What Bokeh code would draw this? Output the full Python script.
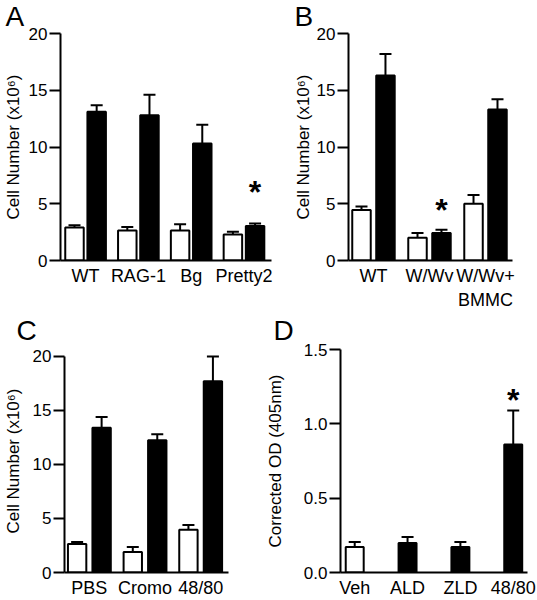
from bokeh.plotting import figure
from bokeh.layouts import row, column
from bokeh.models import Range1d, FixedTicker, PrintfTickFormatter
from bokeh.core.properties import value
from bokeh.embed import file_html
from bokeh.resources import INLINE

FONT = "Liberation Sans"

# ---------------- data ----------------
# Panel A
a_groups = ["WT", "RAG-1", "Bg", "Pretty2"]
a_white = [2.9, 2.65, 2.65, 2.3]
a_white_err = [0.2, 0.3, 0.55, 0.23]
a_black = [13.1, 12.8, 10.3, 3.05]
a_black_err = [0.57, 1.8, 1.65, 0.21]
a_star_group = [3]
a_star_y = [6.4]

# Panel B
b_groups = ["WT", "W/Wv", "W/Wv+\nBMMC"]
b_white = [4.45, 2.0, 5.0]
b_white_err = [0.3, 0.43, 0.78]
b_black = [16.3, 2.43, 13.3]
b_black_err = [1.9, 0.29, 0.9]
b_star_group = [1]
b_star_y = [4.8]

# Panel C
c_groups = ["PBS", "Cromo", "48/80"]
c_white = [2.64, 1.9, 3.95]
c_white_err = [0.19, 0.47, 0.45]
c_black = [13.4, 12.25, 17.7]
c_black_err = [1.0, 0.55, 2.3]

# Panel D
d_groups = ["Veh", "ALD", "ZLD", "48/80"]
d_values = [0.171, 0.198, 0.171, 0.861]
d_err = [0.034, 0.04, 0.034, 0.228]
d_fill = ["white", "black", "black", "black"]
d_star_group = [3]
d_star_y = [1.19]

cell_ticks = [0, 5, 10, 15, 20]
od_ticks = [0.0, 0.5, 1.0, 1.5]
cell_title = "Cell Number (x10\u2076)"
od_title = "Corrected OD (405nm)"


def make_fig(width, height, bl, br, bt, bb, xr, yr, yticks, ytitle, groups,
             letter, letter_dx, letter_standoff, title_standoff):
    p = figure(width=width, height=height, x_range=Range1d(*xr), y_range=Range1d(*yr),
               output_backend="svg", toolbar_location=None,
               min_border_left=bl, min_border_right=br, min_border_top=bt, min_border_bottom=bb)
    p.outline_line_color = None
    p.background_fill_color = "white"
    p.border_fill_color = "white"
    p.xgrid.visible = False
    p.ygrid.visible = False
    # panel letter
    p.title.text = letter
    p.title.text_font = FONT
    p.title.text_font_size = "28px"
    p.title.text_font_style = "normal"
    p.title.text_color = "black"
    p.title.align = "left"
    p.title.vertical_align = "top"
    p.title.offset = letter_dx
    p.title.standoff = letter_standoff
    for ax in (p.xaxis[0], p.yaxis[0]):
        ax.axis_line_width = 2
        ax.axis_line_color = "black"
        ax.major_tick_line_width = 2
        ax.major_tick_line_color = "black"
        ax.minor_tick_line_color = None
        ax.major_label_text_font = FONT
        ax.major_label_text_color = "black"
    xa = p.xaxis[0]
    xa.ticker = FixedTicker(ticks=list(range(len(groups))))
    xa.major_label_overrides = {i: g for i, g in enumerate(groups)}
    xa.major_tick_out = 0
    xa.major_tick_in = 0
    xa.major_label_text_font_size = "18px"
    xa.major_label_standoff = 5
    ya = p.yaxis[0]
    ya.ticker = FixedTicker(ticks=yticks)
    ya.bounds = (yticks[0], yticks[-1])
    ya.major_tick_out = 11
    ya.major_tick_in = 0
    ya.major_label_standoff = 2
    ya.major_label_text_font_size = "17px"
    ya.axis_label = ytitle
    ya.axis_label_text_font = FONT
    ya.axis_label_text_font_size = "17px"
    ya.axis_label_text_font_style = "normal"
    ya.axis_label_text_color = "black"
    ya.axis_label_standoff = title_standoff
    return p


def bars(p, xs, vals, errs, fill, width, cap):
    p.vbar(x=xs, top=vals, bottom=0, width=width, fill_color=fill,
           line_color="black", line_width=2)
    tops = [v + e for v, e in zip(vals, errs)]
    p.segment(x0=xs, y0=vals, x1=xs, y1=tops, line_color="black", line_width=2)
    p.scatter(x=xs, y=tops, marker="dash", size=cap, line_color="black", line_width=2)


def stars(p, xs, ys):
    p.text(x=xs, y=ys, text=["*"] * len(xs), text_font=value(FONT), text_font_style="bold",
           text_font_size="32px", text_align="center", text_baseline="middle",
           y_offset=4, text_color="black")


def paired(p, white, werr, black, berr, off, width):
    n = len(white)
    xw = [i - off for i in range(n)]
    xb = [i + off for i in range(n)]
    bars(p, xw, white, werr, "white", width, 12)
    bars(p, xb, black, berr, "black", width, 12)
    return xb


# Panel A
pa = make_fig(278, 312, 58, 7, 33, 49, (-0.475, 3.521), (0, 20), cell_ticks, cell_title,
              a_groups, "A", -55, 0, 3)
xb = paired(pa, a_white, a_white_err, a_black, a_black_err, 0.21, 0.35)
stars(pa, [xb[g] for g in a_star_group], a_star_y)

# Panel B
pb = make_fig(259, 312, 70, 25, 33, 49, (-0.446, 2.482), (0, 20), cell_ticks, cell_title,
              b_groups, "B", -54, 0, 1)
xb = paired(pb, b_white, b_white_err, b_black, b_black_err, 0.214, 0.33)
stars(pb, [xb[g] for g in b_star_group], b_star_y)

# Panel C (y view extends a little above 20; axis line bounded to 0..20)
pc = make_fig(262, 288, 60, 34, 37, 26, (-0.447, 2.5), (0, 20.64), cell_ticks, cell_title,
              c_groups, "C", -48, 4, 7)
paired(pc, c_white, c_white_err, c_black, c_black_err, 0.22, 0.33)

# Panel D
pd_ = make_fig(275, 288, 74, 10, 37, 26, (-0.269, 3.27), (0, 1.5), od_ticks, od_title,
               d_groups, "D", -67, 4, 16)
pd_.yaxis[0].formatter = PrintfTickFormatter(format="%.1f")
bars(pd_, list(range(len(d_values))), d_values, d_err, d_fill, 0.34, 12)
stars(pd_, d_star_group, d_star_y)

p = column(row(pa, pb), row(pc, pd_))

open("out.html", "w").write(file_html(p, INLINE))
